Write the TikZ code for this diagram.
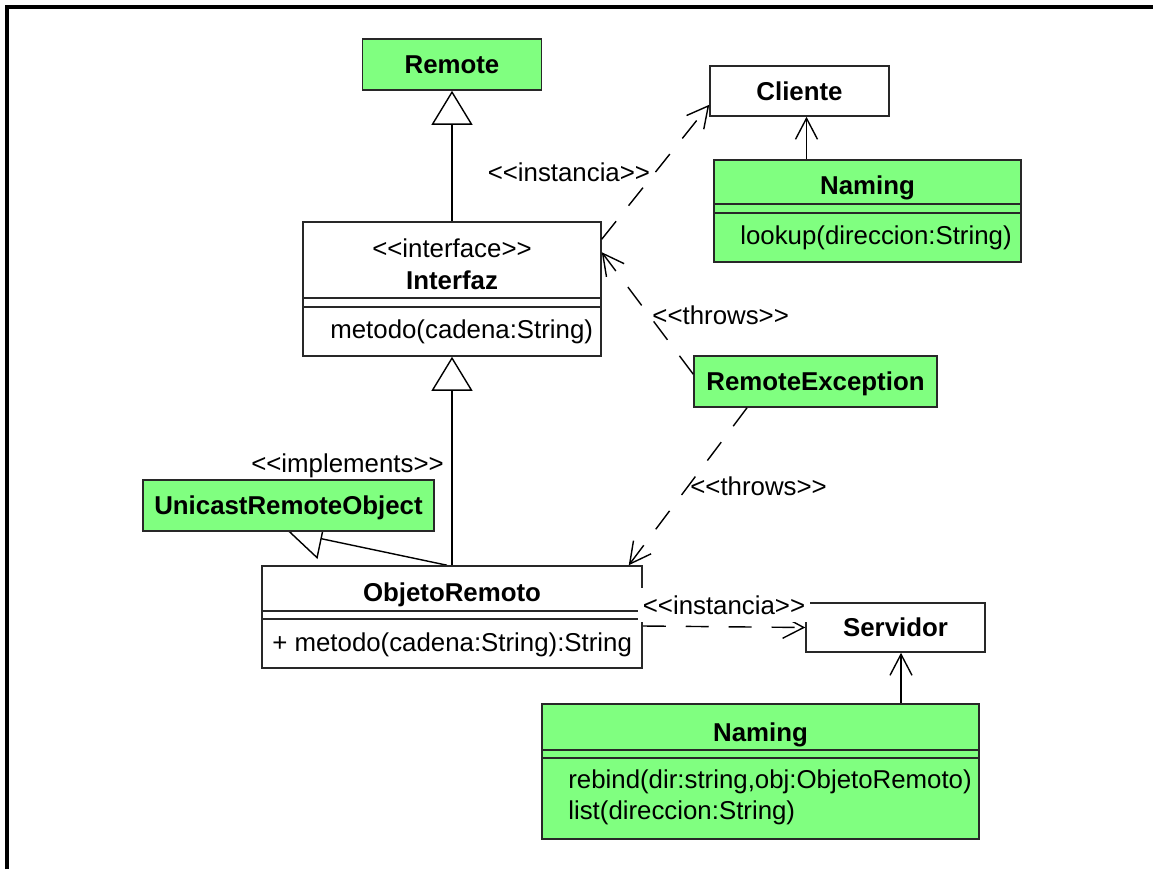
\documentclass[tikz,border=0pt]{standalone}
\usepackage{fontspec}
\setmainfont{Liberation Sans}[Ligatures=TeXOff]
\usepackage{tikz}
\usepackage{xcolor}
\usetikzlibrary{arrows.meta,positioning,backgrounds}
\definecolor{lib-green}{RGB}{128,255,128}
\definecolor{uml-border}{RGB}{40,40,40}
\tikzset{
    class-box/.style = {draw=uml-border, fill=white, line width=0.9pt, rectangle, inner sep=0pt, text height=10.4pt, text depth=0pt, font=\bfseries},
    lib-box/.style = {class-box, fill=lib-green},
    class-name/.style = {inner sep=0pt, text height=10.4pt, text depth=0pt, font=\bfseries},
    class-op/.style = {inner sep=0pt, text height=10.4pt, text depth=0pt, anchor=west},
    stereo/.style = {inner sep=1pt, text height=10.4pt, text depth=0pt},
    compartment/.style = {draw=uml-border, line width=0.9pt},
    extends/.style = {-{Triangle[open, length=0.68cm, width=0.82cm]}, line width=0.8pt},
    uses/.style = {-{Straight Barb[length=0.42cm, width=0.44cm]}, line width=0.8pt},
    depends/.style = {uses, dash pattern=on 0.46cm off 0.4cm},
}

\begin{document}
\begin{tikzpicture}[x=0.02cm, y=-0.02cm]
\fontsize{14.7}{17}\selectfont
\useasboundingbox (0,0) rectangle (1153,869);
\draw[line width=1.8pt] (7,869) -- (7,7) -- (1153,7);

% classes
\node[lib-box, minimum width=3.58cm, minimum height=1.02cm] (remote) at (452,64.5) {Remote};
\node[class-box, minimum width=3.58cm, minimum height=1cm] (cliente) at (799.5,91) {Cliente};
\node[lib-box, minimum width=6.14cm, minimum height=2.04cm] (namingCliente) at (867.5,211) {};
\node[class-box, minimum width=5.96cm, minimum height=2.68cm] (interfaz) at (452,289) {};
\node[lib-box, minimum width=4.86cm, minimum height=1.02cm] (remoteException) at (815.5,381.5) {RemoteException};
\node[lib-box, minimum width=5.82cm, minimum height=1.02cm] (unicast) at (288.5,505.5) {UnicastRemoteObject};
\node[class-box, minimum width=7.6cm, minimum height=2.04cm] (objeto) at (452,617) {};
\node[class-box, minimum width=3.58cm, minimum height=0.98cm] (servidor) at (895.5,627.5) {Servidor};
\node[lib-box, minimum width=8.74cm, minimum height=2.7cm] (namingServidor) at (760.5,771.5) {};

\foreach \nd/\dy in {namingCliente/45, namingCliente/54, interfaz/77, interfaz/86, objeto/46, objeto/54, namingServidor/47, namingServidor/55}
    \draw[compartment] ([yshift=-\dy*0.02cm]\nd.north west) -- ([yshift=-\dy*0.02cm]\nd.north east);

% names and operations
\node[class-name] (namingClienteName) at (867.5,185) {Naming};
\node[class-op] (namingClienteOp) at (740,235) {lookup(direccion:String)};
\node[stereo, inner sep=0pt] (interfazStereo) at (452,248) {<<interface>>};
\node[class-name] (interfazName) at (452,280) {Interfaz};
\node[class-op] (interfazOp) at (330,329) {metodo(cadena:String)};
\node[class-name] (objetoName) at (452,592) {ObjetoRemoto};
\node[class-op] (objetoOp) at (272,642) {+ metodo(cadena:String):String};
\node[class-name] (namingServidorName) at (760.5,732) {Naming};
\node[class-op] (namingServidorRebind) at (568,779) {rebind(dir:string,obj:ObjetoRemoto)};
\node[class-op] (namingServidorList) at (568,810) {list(direccion:String)};

% relations
\draw[extends] (interfaz.north) -- (remote.south);
\draw[extends] (objeto.north) -- (interfaz.south);
\begin{scope}[on background layer]
\draw[extends] ([xshift=-0.1cm]objeto.north) -- (unicast.south);
\end{scope}
\node[stereo] (implementsLbl) at (347.5,463) {<<implements>>};
\draw[uses] ([xshift=0.14cm]cliente.south |- namingCliente.north) -- ([xshift=0.14cm]cliente.south);
\draw[uses] ([xshift=0.11cm]servidor.south |- namingServidor.north) -- ([xshift=0.11cm]servidor.south);
\draw[depends] ([yshift=-0.36cm]interfaz.north east) -- node[stereo, left=0.06cm] (instanciaCliente) {<<instancia>>} ([yshift=0.24cm]cliente.south west);
\draw[depends] ([yshift=-0.38cm]remoteException.north west) -- node[stereo, right=0.05cm, yshift=-0.05cm] (throwsInterfaz) {<<throws>>} ([yshift=-0.62cm]interfaz.north east);
\draw[depends] ([xshift=-1.37cm]remoteException.south) -- node[stereo, right=0cm] (throwsObjeto) {<<throws>>} ([xshift=-0.28cm]objeto.north east);
\draw[depends] ([yshift=-0.18cm]objeto.east) -- node[stereo, fill=white, above=0.08cm, inner xsep=0.1cm, inner ysep=0.16cm] (instanciaServidor) {<<instancia>>} (servidor.west);
\end{tikzpicture}
\end{document}
